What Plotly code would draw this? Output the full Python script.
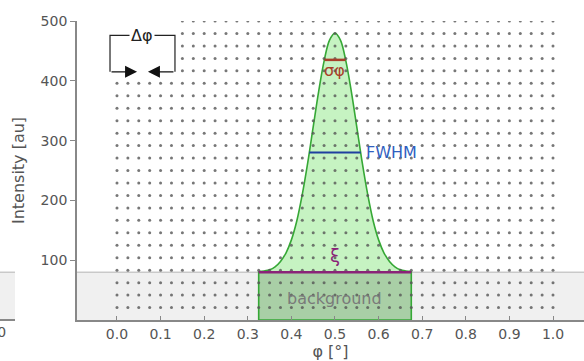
import numpy as np
import plotly.graph_objects as go

# ---- data ----
phi_peak = [0.325, 0.3375, 0.35, 0.3625, 0.375, 0.3875, 0.4, 0.4125, 0.425, 0.4375,
            0.45, 0.4625, 0.475, 0.4875, 0.5, 0.5125, 0.525, 0.5375, 0.55, 0.5625,
            0.575, 0.5875, 0.6, 0.6125, 0.625, 0.6375, 0.65, 0.6625, 0.675]
intensity_peak = [81, 82, 84, 89, 98, 112, 134, 166, 210, 263,
                  323, 382, 433, 468, 480, 468, 433, 382, 323, 263,
                  210, 166, 134, 112, 98, 89, 84, 82, 81]
background_level = 80
peak_range = [0.325, 0.675]
fwhm_phi = [0.441, 0.559]
fwhm_level = 280
sigma_phi = [0.476, 0.524]
sigma_level = 435
delta_phi_tips = [0.046, 0.071]

grid_phi_step = 0.025
grid_phi_count = 41
grid_int_step = 500 / 24
grid_int_count = 24

x_ticks = [0.0, 0.1, 0.2, 0.3, 0.4, 0.5, 0.6, 0.7, 0.8, 0.9, 1.0]
x_ticktext = ["0.0", "0.1", "0.2", "0.3", "0.4", "0.5", "0.6", "0.7", "0.8", "0.9", "1.0"]
y_ticks = [100, 200, 300, 400, 500]

# ---- layout constants ----
X_RANGE = [-0.0917, 1.0711]
Y_RANGE = [0, 500]
FONT = "DejaVu Sans"
AXCOL = "#888888"
TXTCOL = "#555555"

gx, gy = np.meshgrid(np.arange(grid_phi_count) * grid_phi_step,
                     np.arange(1, grid_int_count + 1) * grid_int_step)

fig = go.Figure()

# peak fill
fig.add_trace(go.Scatter(x=phi_peak, y=intensity_peak, mode="lines",
                         line=dict(color="#36a836", width=1.6, shape="spline"),
                         fill="toself", fillcolor="#c6f3c2", hoverinfo="skip"))
# dot grid
fig.add_trace(go.Scatter(x=gx.ravel(), y=gy.ravel(), mode="markers",
                         marker=dict(size=3, color="rgba(85,85,85,0.8)", line=dict(width=0)),
                         hoverinfo="skip"))
# FWHM line
fig.add_trace(go.Scatter(x=fwhm_phi, y=[fwhm_level, fwhm_level], mode="lines",
                         line=dict(color="#1f3f9f", width=2)))
# sigma line
fig.add_trace(go.Scatter(x=sigma_phi, y=[sigma_level, sigma_level], mode="lines",
                         line=dict(color="#a8402a", width=2.5)))
# background (xi) line
fig.add_trace(go.Scatter(x=peak_range, y=[background_level, background_level], mode="lines",
                         line=dict(color="#8a2278", width=2.5)))

shapes = []
# gray background band (main)
shapes.append(dict(type="rect", xref="x", yref="y", x0=X_RANGE[0], x1=X_RANGE[1],
                   y0=0, y1=background_level, fillcolor="#f0f0f0",
                   line=dict(width=0), layer="below"))
shapes.append(dict(type="line", xref="x", yref="y", x0=X_RANGE[0], x1=X_RANGE[1],
                   y0=background_level, y1=background_level,
                   line=dict(color="#b4b4b4", width=1), layer="below"))
# dark green background rect under peak
shapes.append(dict(type="rect", xref="x", yref="y", x0=peak_range[0], x1=peak_range[1],
                   y0=0, y1=background_level, fillcolor="#a9cfa6",
                   line=dict(color="#36a836", width=1.6), layer="below"))
# white box behind delta-phi bracket
shapes.append(dict(type="rect", xref="x", yref="y", x0=-0.035, x1=0.142, y0=405, y1=520,
                   fillcolor="white", line=dict(width=0), layer="above"))
shapes.append(dict(type="path", xref="x", yref="y",
                   path="M -0.016,415 L -0.016,476 L 0.133,476 L 0.133,415",
                   line=dict(color="#222222", width=1.2), layer="above"))
# cropped neighbouring panel on the left
p0 = -0.2
p1 = -0.1223
bg_paper = background_level / (Y_RANGE[1] - Y_RANGE[0])
shapes.append(dict(type="rect", xref="paper", yref="paper", x0=p0, x1=p1, y0=0, y1=bg_paper,
                   fillcolor="#f0f0f0", line=dict(width=0)))
shapes.append(dict(type="line", xref="paper", yref="paper", x0=p0, x1=p1, y0=bg_paper, y1=bg_paper,
                   line=dict(color="#b4b4b4", width=1)))
shapes.append(dict(type="line", xref="paper", yref="paper", x0=p0, x1=p1, y0=0, y1=0,
                   line=dict(color=AXCOL, width=1.8)))

annotations = [
    dict(x=0.058, y=476, xref="x", yref="y", text="Δφ", showarrow=False,
         bgcolor="white", font=dict(family=FONT, size=16, color="#222222")),
    dict(x=delta_phi_tips[0], y=415, ax=-0.016, ay=415, xref="x", yref="y", axref="x", ayref="y",
         text="", showarrow=True, arrowhead=2, arrowsize=2, arrowwidth=1.2, arrowcolor="#111111",
         standoff=0, startstandoff=0),
    dict(x=delta_phi_tips[1], y=415, ax=0.133, ay=415, xref="x", yref="y", axref="x", ayref="y",
         text="", showarrow=True, arrowhead=2, arrowsize=2, arrowwidth=1.2, arrowcolor="#111111",
         standoff=0, startstandoff=0),
    dict(x=0.5, y=417, xref="x", yref="y", text="σφ", showarrow=False,
         font=dict(family=FONT, size=16, color="#a8402a")),
    dict(x=0.5665, y=fwhm_level, xref="x", yref="y", text="FWHM", showarrow=False,
         xanchor="left", font=dict(family=FONT, size=16, color="#3060c0")),
    dict(x=0.5, y=108, xref="x", yref="y", text="ξ", showarrow=False,
         font=dict(family=FONT, size=18, color="#8a2278")),
    dict(x=0.5, y=36, xref="x", yref="y", text="background", showarrow=False,
         font=dict(family=FONT, size=16, color="#7a7a7a")),
    dict(x=-0.136, y=-0.04, xref="paper", yref="paper", text="1.0", showarrow=False,
         xanchor="right", yanchor="middle", font=dict(family=FONT, size=14, color=TXTCOL)),
]

fig.update_layout(
    width=584, height=361,
    margin=dict(l=77, r=0, t=21, b=41),
    paper_bgcolor="white", plot_bgcolor="white",
    showlegend=False,
    font=dict(family=FONT, size=14, color=TXTCOL),
    shapes=shapes, annotations=annotations,
    xaxis=dict(range=X_RANGE, tickvals=x_ticks, ticktext=x_ticktext,
               showgrid=False, zeroline=False, showline=True, linecolor=AXCOL, linewidth=1.8,
               ticks="inside", ticklen=4, tickcolor=AXCOL, tickwidth=1,
               tickfont=dict(family=FONT, size=14, color=TXTCOL),
               title=dict(text="φ [°]", font=dict(family=FONT, size=16, color=TXTCOL), standoff=2)),
    yaxis=dict(range=Y_RANGE, tickvals=y_ticks,
               showgrid=False, zeroline=False, showline=True, linecolor=AXCOL, linewidth=1.8,
               ticks="outside", ticklen=5, tickcolor=AXCOL, tickwidth=1,
               tickfont=dict(family=FONT, size=14, color=TXTCOL),
               title=dict(text="Intensity [au]", font=dict(family=FONT, size=16, color=TXTCOL), standoff=12)),
)

fig.write_html("out.html")
